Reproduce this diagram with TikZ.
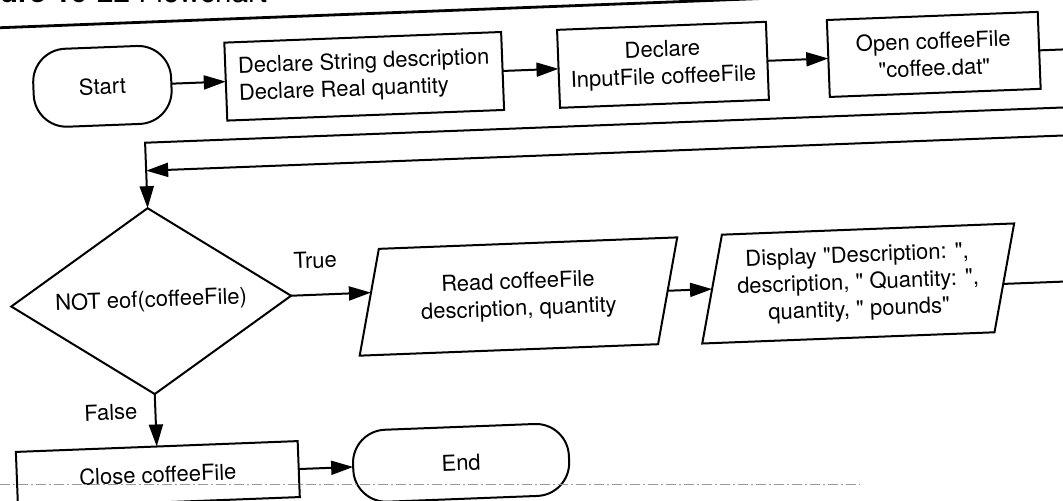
\documentclass[tikz,border=0pt]{standalone}
\usepackage{fontspec}
\setmainfont{TeX Gyre Heros}[Ligatures=TeXOff]
\usetikzlibrary{arrows.meta,shapes.geometric,calc}

\begin{document}
\begin{tikzpicture}[x=0.5pt,y=-0.5pt,
  every node/.style={font=\fontsize{11}{13.5}\selectfont, inner sep=0pt, outer sep=0pt},
  ln/.style={line width=1pt},
  flow/.style={ln, -{Triangle[length=11pt,width=7pt]}},
  process/.style={draw, ln, align=center},
  terminal/.style={draw, ln, rounded corners=16.5pt},
  decision/.style={draw, ln, diamond, aspect=1.5, minimum width=140pt, minimum height=93pt},
  io/.style={draw, ln, trapezium, trapezium stretches=true, align=center}]

\useasboundingbox (0,0) rectangle (1063,501);
\clip (0,0) rectangle (1063,501);

% caption, mostly above the top edge
\node[anchor=base west, font=\fontsize{14.8}{18}\selectfont] (title) at (-44.4,3)
     {\textbf{Figure 10-22} Flowchart};

% page is scanned slightly askew
\begin{scope}[rotate around={2.2:(531.5,250.5)}, transform shape]

  % caption rule
  \draw[line width=1.4pt] (-60,7.5) -- (1150,7.5);

  % top row
  \node[terminal, minimum width=69pt, minimum height=39pt] (start) at (109,70) {Start};
  \node[process, align=left, minimum width=138.5pt, minimum height=39pt] (decl1) at (371,70)
       {Declare String description\\Declare Real quantity};
  \node[process, minimum width=104.5pt, minimum height=39pt] (decl2) at (670,70)
       {Declare\\InputFile coffeeFile};
  \node[process, minimum width=105.5pt, minimum height=38.5pt] (open) at (941,70)
       {Open coffeeFile\\"coffee.dat"};

  % loop
  \node[decision] (dia) at (149.5,286.5) {NOT eof(coffeeFile)};
  \node[io, trapezium left angle=71, trapezium right angle=109,
        minimum width=161pt, minimum height=53pt] (read) at (516.7,296)
       {Read coffeeFile\\description, quantity};
  \node[io, trapezium left angle=74, trapezium right angle=106,
        minimum width=158.5pt, minimum height=54pt] (disp) at (856.7,296)
       {Display "Description: ",\\description, " Quantity: ",\\quantity, " pounds"};

  % bottom row
  \node[process, minimum width=141pt, minimum height=28pt] (close) at (149.5,460) {Close coffeeFile};
  \node[terminal, minimum width=108pt, minimum height=36pt] (end) at (453,460) {End};

  % branch labels
  \node (true) at (315,252) {True};
  \node (false) at (105,396) {False};

  % free ends and corners
  \coordinate (openR) at (1110,70);
  \coordinate (loopA) at (1110,128);
  \coordinate (cornerA) at (149.5,128);
  \coordinate (loopB) at (1110,156);
  \coordinate (hitB) at (149.5,156);
  \coordinate (readIn) at ($(read.bottom left corner)!0.59!(read.top left corner)$);
  \coordinate (dout) at ($(disp.bottom right corner)!0.444!(disp.top right corner)$);
  \coordinate (doutR) at (1110,302);

  % connectors
  \draw[flow] (start) -- (decl1);
  \draw[flow] (decl1) -- (decl2);
  \draw[flow] (decl2) -- (open);
  \draw[ln] (open.east) -- (openR);
  \draw[flow] (loopA) -- (cornerA) -- (dia.north);
  \draw[flow] (loopB) -- (hitB);
  \draw[flow] (dia.east) -- (readIn);
  \draw[flow] (read) -- (disp);
  \draw[ln] (dout) -- (doutR);
  \draw[flow] (dia.south) -- (close.north);
  \draw[flow] (close.east) -- (end.west);
\end{scope}

% faint line showing through from the reverse of the page
\draw[black!40, line width=0.4pt, dash pattern=on 5pt off 1.5pt on 1pt off 1.5pt] (0,484) -- (860,484);

\end{tikzpicture}
\end{document}
